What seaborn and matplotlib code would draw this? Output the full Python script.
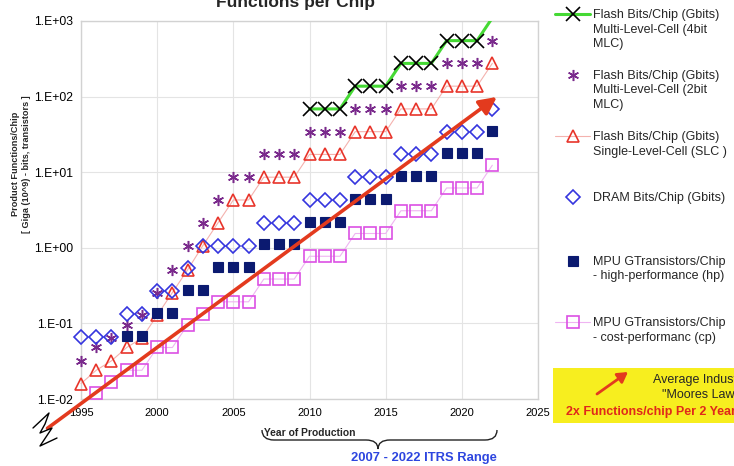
import matplotlib
matplotlib.use("Agg")
import matplotlib.pyplot as plt
import seaborn as sns
import pandas as pd
from matplotlib.path import Path
from matplotlib.patches import PathPatch, Rectangle, FancyArrowPatch
from matplotlib.lines import Line2D
from matplotlib.ticker import FixedLocator, FixedFormatter, NullLocator

# ---------------- data ----------------
years_4bit = [2010, 2011, 2012, 2013, 2014, 2015, 2016, 2017, 2018, 2019, 2020, 2021, 2022]
flash_4bit = [68.72, 68.72, 68.72, 137.4, 137.4, 137.4, 274.9, 274.9, 274.9, 549.8, 549.8, 549.8, 1099.5]

years_full = [1995, 1996, 1997, 1998, 1999, 2000, 2001, 2002, 2003, 2004, 2005, 2006, 2007, 2008,
              2009, 2010, 2011, 2012, 2013, 2014, 2015, 2016, 2017, 2018, 2019, 2020, 2021, 2022]
flash_2bit = [0.032, 0.048, 0.064, 0.096, 0.128, 0.256, 0.512, 1.07, 2.15, 4.29, 8.59, 8.59,
              17.18, 17.18, 17.18, 34.36, 34.36, 34.36, 68.72, 68.72, 68.72,
              137.4, 137.4, 137.4, 274.9, 274.9, 274.9, 549.8]
flash_slc = [0.016, 0.024, 0.032, 0.048, 0.064, 0.128, 0.256, 0.512, 1.07, 2.15, 4.29, 4.29,
             8.59, 8.59, 8.59, 17.18, 17.18, 17.18, 34.36, 34.36, 34.36,
             68.72, 68.72, 68.72, 137.4, 137.4, 137.4, 274.9]
dram = [0.067, 0.067, 0.067, 0.134, 0.134, 0.268, 0.268, 0.536, 1.07, 1.07, 1.07, 1.07,
        2.15, 2.15, 2.15, 4.29, 4.29, 4.29, 8.59, 8.59, 8.59,
        17.18, 17.18, 17.18, 34.36, 34.36, 34.36, 68.72]

years_hp = [1998, 1999, 2000, 2001, 2002, 2003, 2004, 2005, 2006, 2007, 2008, 2009, 2010,
            2011, 2012, 2013, 2014, 2015, 2016, 2017, 2018, 2019, 2020, 2021, 2022]
mpu_hp = [0.069, 0.069, 0.138, 0.138, 0.276, 0.276, 0.553, 0.553, 0.553,
          1.106, 1.106, 1.106, 2.212, 2.212, 2.212, 4.424, 4.424, 4.424,
          8.848, 8.848, 8.848, 17.696, 17.696, 17.696, 35.391]

years_cp = [1996, 1997, 1998, 1999, 2000, 2001, 2002, 2003, 2004, 2005, 2006, 2007, 2008, 2009,
            2010, 2011, 2012, 2013, 2014, 2015, 2016, 2017, 2018, 2019, 2020, 2021, 2022]
mpu_cp = [0.012, 0.017, 0.024, 0.024, 0.048, 0.048, 0.096, 0.135, 0.193, 0.193, 0.193,
          0.386, 0.386, 0.386, 0.773, 0.773, 0.773, 1.546, 1.546, 1.546,
          3.092, 3.092, 3.092, 6.184, 6.184, 6.184, 12.368]

# "Moore's law" trend: 2x per 2 years
trend_years = [1992.8, 2022.3]
trend_values = [0.0041, 99.0]

series_labels = [
    ["Flash Bits/Chip (Gbits)", "Multi-Level-Cell (4bit", "MLC)"],
    ["Flash Bits/Chip (Gbits)", "Multi-Level-Cell (2bit", "MLC)"],
    ["Flash Bits/Chip (Gbits)", "Single-Level-Cell (SLC )"],
    ["DRAM Bits/Chip (Gbits)"],
    ["MPU GTransistors/Chip", "- high-performance (hp)"],
    ["MPU GTransistors/Chip", "- cost-performanc (cp)"],
]

x_ticks = [1995, 2000, 2005, 2010, 2015, 2020, 2025]
y_ticks = [0.01, 0.1, 1, 10, 100, 1000]
y_tick_labels = ["1.E-02", "1.E-01", "1.E+00", "1.E+01", "1.E+02", "1.E+03"]

# ---------------- style ----------------
sns.set_theme(style="white")
plt.rcParams["font.family"] = ["Liberation Sans", "DejaVu Sans"]

W, H = 734, 466
def fx(x):
    return x / W
def fy(y):
    return 1 - y / H

fig = plt.figure(figsize=(W / 100, H / 100), dpi=100)
fig.patch.set_facecolor("white")
ax = fig.add_axes([fx(81), fy(399), (538 - 81) / W, (399 - 21) / H])

GREEN = "#45d934"
PURPLE = "#7a2a8c"
RED = "#e8352b"
RED_LINE = "#f4b2ae"
BLUE = "#3535de"
NAVY = "#0b1a70"
MAGENTA = "#dc50e4"
MAG_LINE = "#efb4f2"

handles = []

# 4-bit MLC: green line + black X markers (2022 point is above the axis)
sns.lineplot(x=years_4bit, y=flash_4bit, ax=ax, color=GREEN, lw=2.2, zorder=3)
l4_line = ax.lines[-1]
sns.lineplot(x=years_4bit[:-1], y=flash_4bit[:-1], ax=ax, color="black", linestyle="",
             marker="x", markersize=10.5, markeredgecolor="black", markeredgewidth=1.2, zorder=4)
l4_mark = ax.lines[-1]
handles.append((l4_line, l4_mark))

# 2-bit MLC
sns.lineplot(x=years_full, y=flash_2bit, ax=ax, color=PURPLE, linestyle="",
             marker=(6, 2, 0), markersize=8, markeredgecolor=PURPLE, markeredgewidth=1.1, zorder=4)
ax.lines[-1].set_clip_on(False)
handles.append(ax.lines[-1])

# SLC
sns.lineplot(x=years_full, y=flash_slc, ax=ax, color=RED_LINE, lw=0.8,
             marker="^", markersize=9, markerfacecolor="none", markeredgecolor=RED,
             markeredgewidth=1.2, zorder=4)
ax.lines[-1].set_clip_on(False)
handles.append(ax.lines[-1])

# DRAM
sns.lineplot(x=years_full, y=dram, ax=ax, color=BLUE, linestyle="",
             marker="D", markersize=6.8, markerfacecolor="none", markeredgecolor=BLUE,
             markeredgewidth=1.2, zorder=4)
ax.lines[-1].set_clip_on(False)
handles.append(ax.lines[-1])

# MPU hp
sns.lineplot(x=years_hp, y=mpu_hp, ax=ax, color=NAVY, linestyle="",
             marker="s", markersize=7.2, markerfacecolor=NAVY, markeredgecolor=NAVY,
             markeredgewidth=0.8, zorder=5)
ax.lines[-1].set_clip_on(False)
handles.append(ax.lines[-1])

# MPU cp
sns.lineplot(x=years_cp, y=mpu_cp, ax=ax, color=MAG_LINE, lw=0.8,
             marker="s", markersize=8, markerfacecolor="none", markeredgecolor=MAGENTA,
             markeredgewidth=1.2, zorder=4)
ax.lines[-1].set_clip_on(False)
handles.append(ax.lines[-1])

# axes setup
ax.set_yscale("log")
ax.set_xlim(1995, 2025)
ax.set_ylim(0.01, 1000)
ax.xaxis.set_major_locator(FixedLocator(x_ticks))
ax.yaxis.set_major_locator(FixedLocator(y_ticks))
ax.yaxis.set_major_formatter(FixedFormatter(y_tick_labels))
ax.yaxis.set_minor_locator(NullLocator())
ax.grid(True, which="major", color="#e4e4e4", lw=0.8)
ax.set_axisbelow(True)
for s in ax.spines.values():
    s.set_visible(True)
    s.set_color("#d2d2d2")
    s.set_linewidth(1.0)
ax.tick_params(axis="x", length=0, pad=6.5, labelsize=8, colors="black")
ax.tick_params(axis="y", length=3, width=0.8, color="#c8c8c8", pad=2.5, labelsize=8.7, labelcolor="black")
ax.set_xlabel("")
ax.set_ylabel("Product Functions/Chip\n[ Giga (10^9) - bits, transistors ]",
              fontsize=6.6, fontweight="bold", linespacing=1.25)
ax.yaxis.set_label_coords((31 - 81) / (538 - 81), (399 - 164) / (399 - 21))

# trend arrow
ax.annotate("", xy=(trend_years[1], trend_values[1]), xytext=(trend_years[0], trend_values[0]),
            xycoords="data", textcoords="data", annotation_clip=False,
            arrowprops=dict(arrowstyle="-|>,head_length=0.8,head_width=0.4", color="#e33a1e",
                            lw=2.6, shrinkA=0, shrinkB=0, mutation_scale=13),
            zorder=6)

# title (cut at top)
fig.text(fx(296), fy(7), "Functions per Chip", ha="center", va="baseline",
         fontsize=12.5, fontweight="bold")

# x label + brace + range text
fig.text(fx(310), fy(433), "Year of Production", ha="center", va="center",
         fontsize=7.4, fontweight="bold")
bv = [(262, 430), (262, 440), (274, 440), (366, 440), (378, 440), (378, 449),
      (378, 440), (390, 440), (485, 440), (497, 440), (497, 430)]
bc = [Path.MOVETO, Path.CURVE3, Path.CURVE3, Path.LINETO, Path.CURVE3, Path.CURVE3,
      Path.CURVE3, Path.CURVE3, Path.LINETO, Path.CURVE3, Path.CURVE3]
fig.add_artist(PathPatch(Path([(fx(a), fy(b)) for a, b in bv], bc), transform=fig.transFigure,
                         fill=False, lw=1.0, edgecolor="#222222"))
fig.text(fx(424), fy(458), "2007 - 2022 ITRS Range", ha="center", va="center",
         fontsize=9.4, fontweight="bold", color="#2d45df")

# axis break squiggle
zz = [(33, 428), (49, 413), (45, 424), (40, 433), (52, 428), (40, 446), (57, 438)]
fig.add_artist(Line2D([fx(a) for a, b in zz], [fy(b) for a, b in zz],
                      transform=fig.transFigure, color="black", lw=1.0))

# legend entries
leg_y = [15, 76, 137, 198, 262, 323]
for h, lab, yc in zip(handles, series_labels, leg_y):
    lg = fig.legend(handles=[h], labels=[lab[0]], loc="center left",
                    bbox_to_anchor=(fx(555), fy(yc)), bbox_transform=fig.transFigure,
                    frameon=False, borderpad=0, borderaxespad=0, handlelength=2.8,
                    handletextpad=0.25, fontsize=9)
    for k, extra in enumerate(lab[1:], start=1):
        fig.text(fx(593), fy(yc + 14.5 * k), extra, ha="left", va="center", fontsize=9)

# yellow note box
fig.add_artist(Rectangle((fx(553), fy(423)), fx(200), (423 - 368) / H, transform=fig.transFigure,
                         facecolor="#f7ee1f", edgecolor="none", zorder=0))
fig.text(fx(700), fy(380), "Average Industry", ha="center", va="center", fontsize=9)
fig.text(fx(700), fy(395), "\"Moores Law\"", ha="center", va="center", fontsize=9)
fig.text(fx(566), fy(412), "2x Functions/chip Per 2 Years", ha="left", va="center",
         fontsize=9, fontweight="bold", color="#e0281a")
fig.add_artist(FancyArrowPatch((fx(597), fy(394)), (fx(628), fy(372)), transform=fig.transFigure,
                               arrowstyle="-|>,head_length=0.6,head_width=0.35", mutation_scale=10,
                               color="#e33a1e", lw=2.0, shrinkA=0, shrinkB=0))

fig.savefig("out.png", dpi=100)
